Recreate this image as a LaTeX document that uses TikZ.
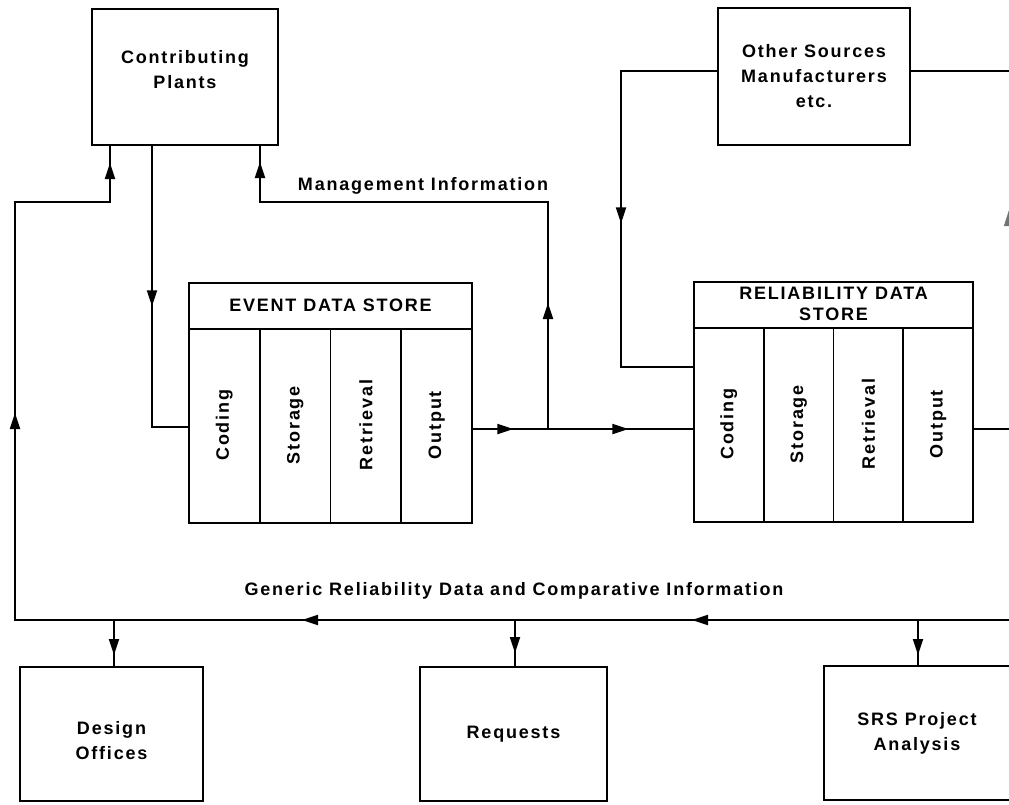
\documentclass[tikz,border=0pt]{standalone}
\usepackage{fontspec}
\usepackage{graphicx}
\setmainfont{Liberation Sans}[LetterSpace=10]
\usetikzlibrary{arrows.meta,decorations.markings}
\begin{document}
\begin{tikzpicture}[x=1pt,y=-1pt,
  every node/.style={font=\bfseries\fontsize{18}{25}\selectfont, align=center, inner sep=0pt},
  box/.style={draw, line width=2.8pt},
  part/.style={outer sep=0pt},
  conn/.style={line width=1.9pt},
  divider/.style={line width=1.6pt},
  arr/.style={postaction={decorate,decoration={markings,mark=at position #1 with {\arrow{Triangle[length=16pt,width=10pt]}}}}}
]
\useasboundingbox (0,0) rectangle (1009,804);
\clip (0,0) rectangle (1009,804);
\fill[white] (0,0) rectangle (1009,804);

% top boxes
\node[box, minimum width=186, minimum height=136] (cp) at (185,77) {Contributing\\Plants\\[-18pt]\strut};
\node[box, minimum width=192, minimum height=137] (os) at (814,76.5) {Other Sources\\Manufacturers\\etc.};

% Event data store
\node[box, minimum width=283, minimum height=240] (ev) at (330.5,403) {};
\node[part, minimum width=283, minimum height=47, anchor=north] (evh) at (ev.north) {EVENT DATA STORE};
\draw[divider, line width=1.9pt] (evh.south west) -- (evh.south east);
\node[part, minimum width=70.75, minimum height=193, anchor=north west] (evc1) at (evh.south west) {\rotatebox{90}{Coding}};
\node[part, minimum width=70.75, minimum height=193, anchor=north west] (evc2) at (evc1.north east) {\rotatebox{90}{Storage}};
\node[part, minimum width=70.75, minimum height=193, anchor=north west] (evc3) at (evc2.north east) {\rotatebox{90}{Retrieval}};
\node[part, minimum width=70.75, minimum height=193, anchor=north west] (evc4) at (evc3.north east) {\rotatebox{90}{Output}};
\draw[divider] (evc1.north east) -- (evc1.south east);
\draw[divider] (evc2.north east) -- (evc2.south east);
\draw[divider] (evc3.north east) -- (evc3.south east);

% Reliability data store
\node[box, minimum width=279, minimum height=240] (rd) at (833.5,402) {};
\node[part, minimum width=279, minimum height=47, anchor=north, font=\bfseries\fontsize{18}{21}\selectfont] (rdh) at (rd.north) {RELIABILITY DATA\\STORE};
\draw[divider, line width=1.9pt] (rdh.south west) -- (rdh.south east);
\node[part, minimum width=69.75, minimum height=193, anchor=north west] (rdc1) at (rdh.south west) {\rotatebox{90}{Coding}};
\node[part, minimum width=69.75, minimum height=193, anchor=north west] (rdc2) at (rdc1.north east) {\rotatebox{90}{Storage}};
\node[part, minimum width=69.75, minimum height=193, anchor=north west] (rdc3) at (rdc2.north east) {\rotatebox{90}{Retrieval}};
\node[part, minimum width=69.75, minimum height=193, anchor=north west] (rdc4) at (rdc3.north east) {\rotatebox{90}{Output}};
\draw[divider] (rdc1.north east) -- (rdc1.south east);
\draw[divider] (rdc2.north east) -- (rdc2.south east);
\draw[divider] (rdc3.north east) -- (rdc3.south east);

% bottom boxes
\node[box, minimum width=183, minimum height=134] (do) at (111.5,734) {\strut\\[-16pt]Design\\Offices};
\node[box, minimum width=187, minimum height=134] (rq) at (513.5,734) {Requests};
\node[box, minimum width=186, minimum height=134] (srs) at (917,733) {SRS Project\\Analysis};

% labels
\node (mgmt) at (423,186) {Management Information};
\node (gen) at (514,591) {Generic Reliability Data and Comparative Information};

% coordinates
\coordinate (c1) at (152,427);
\coordinate (m1) at (548,429);
\coordinate (m2) at (548,202);
\coordinate (m3) at (260,202);
\coordinate (o1) at (621,71);
\coordinate (o2) at (621,367);
\coordinate (e1) at (1009,71);
\coordinate (e2) at (1009,240);
\coordinate (e3) at (1009,429);
\coordinate (b0) at (1009,620);
\coordinate (b1) at (15,620);
\coordinate (b2) at (15,202);
\coordinate (b3) at (110,202);
\coordinate (d1) at (114,620);
\coordinate (d2) at (515,620);
\coordinate (d3) at (918,620);

% connectors
\draw[conn, arr=160pt] (cp.south -| c1) -- (c1) -- (ev.west |- c1);
\draw[conn, arr=126pt, arr=555pt] (m1) -- (m2) -- (m3) -- (cp.south -| m3);
\draw[conn, arr=40pt, arr=155pt] (ev.east |- m1) -- (rd.west |- m1);
\draw[conn, arr=248pt] (os.west |- o1) -- (o1) -- (o2) -- (rd.west |- o2);
\draw[conn] (os.east |- e1) -- (e1);
\draw[line width=1pt, black!55, arr=30pt] (e2) -- (e1);
\draw[conn] (rd.east |- e3) -- (e3);
\draw[conn, arr=317pt, arr=707pt, arr=1201pt, arr=1546pt] (b0) -- (b1) -- (b2) -- (b3) -- (cp.south -| b3);
\draw[conn, arr=35pt] (d1) -- (d1 |- do.north);
\draw[conn, arr=33pt] (d2) -- (d2 |- rq.north);
\draw[conn, arr=35pt] (d3) -- (d3 |- srs.north);
\end{tikzpicture}
\end{document}
